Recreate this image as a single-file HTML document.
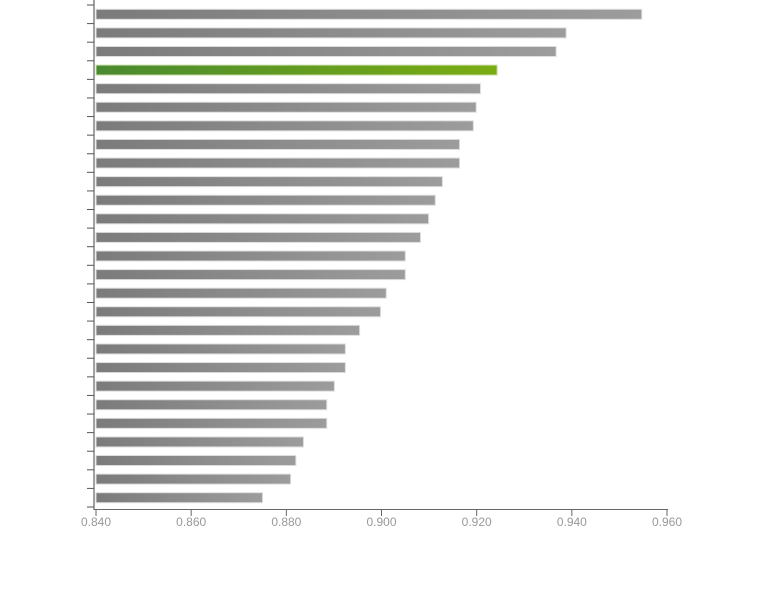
<!DOCTYPE html>
<html><head><meta charset="utf-8"><style>
html,body{margin:0;padding:0;background:#fff;width:757px;height:599px;overflow:hidden}
svg{display:block}
text{font-family:"Liberation Sans Narrow","Liberation Sans",sans-serif;}
</style></head><body>
<svg id="chart" width="757" height="599">
<defs>
<linearGradient id="gGray" x1="0" x2="1" y1="0" y2="0"><stop offset="0" stop-color="#7b7b7b"/><stop offset="1" stop-color="#9c9c9c"/></linearGradient>
<linearGradient id="gGreen" x1="0" x2="1" y1="0" y2="0"><stop offset="0" stop-color="#4a8a30"/><stop offset="1" stop-color="#7aac12"/></linearGradient>
</defs>
<g id="bars"></g>
<g id="axes"></g>
</svg>
<script>
const categories = ["r1","r2","r3","r4","r5","r6","r7","r8","r9","r10","r11","r12","r13","r14","r15","r16","r17","r18","r19","r20","r21","r22","r23","r24","r25","r26","r27"];
const values = [0.9547,0.9388,0.9367,0.9243,0.9208,0.9199,0.9193,0.9164,0.9164,0.9128,0.9113,0.9099,0.9082,0.9050,0.9050,0.9010,0.8998,0.8954,0.8924,0.8924,0.8901,0.8885,0.8885,0.8836,0.8820,0.8809,0.8750];
const highlight = [3];
const tickValues = [0.84,0.86,0.88,0.90,0.92,0.94,0.96];
const tickLabels = ["0.840","0.860","0.880","0.900","0.920","0.940","0.960"];

const NS="http://www.w3.org/2000/svg";
const xMin=0.84,xMax=0.96,x0=96,x1=667;
const x=v=>x0+(v-xMin)/(xMax-xMin)*(x1-x0);
const yTop=5,yBot=507,band=(yBot-yTop)/categories.length;
const y=i=>yTop+i*band;
const barH=10;
const bars=document.getElementById('bars'),axes=document.getElementById('axes');
function mk(tag,attrs,parent){const e=document.createElementNS(NS,tag);for(const k in attrs)e.setAttribute(k,attrs[k]);parent.appendChild(e);return e;}
categories.forEach((c,i)=>{
  const hl=highlight.includes(i);
  const r=mk('rect',{x:x0,y:y(i)+(band-barH)/2,width:Math.max(0,x(values[i])-x0),height:barH,fill:hl?'url(#gGreen)':'url(#gGray)',stroke:hl?'#cfe0b0':'#dddddd','stroke-width':1},bars);
  
  
});
// y axis
const ya=mk('line',{x1:94,x2:94,y1:0,y2:510,stroke:'#444','stroke-width':1},axes);


for(let i=0;i<=categories.length;i++){
  const t=mk('line',{x1:87,x2:94,y1:y(i),y2:y(i),stroke:'#555','stroke-width':1},axes);
  
  
}
const xa=mk('line',{x1:94,x2:668,y1:509.5,y2:509.5,stroke:'#666','stroke-width':1},axes);


tickValues.forEach((v,i)=>{
  const t=mk('line',{x1:x(v),x2:x(v),y1:509,y2:516,stroke:'#666','stroke-width':1},axes);
  
  
  const l=mk('text',{x:x(v),y:526,'text-anchor':'middle','font-size':12,fill:'#999'},axes);
  l.textContent=tickLabels[i];
  
  
});
</script>
</body></html>
